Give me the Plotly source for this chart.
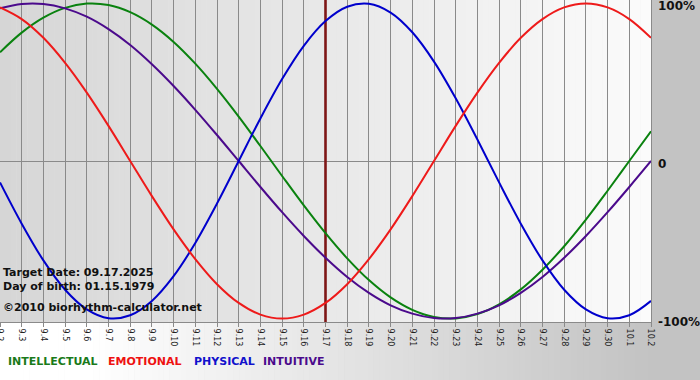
import plotly.graph_objects as go

# ---------------- data ----------------
dates = ["9.2", "9.3", "9.4", "9.5", "9.6", "9.7", "9.8", "9.9", "9.10", "9.11",
         "9.12", "9.13", "9.14", "9.15", "9.16", "9.17", "9.18", "9.19", "9.20",
         "9.21", "9.22", "9.23", "9.24", "9.25", "9.26", "9.27", "9.28", "9.29",
         "9.30", "10.1", "10.2"]

intellectual = [0.690, 0.815, 0.910, 0.972, 0.999, 0.990, 0.945, 0.866, 0.756, 0.618,
                0.458, 0.282, 0.095, -0.095, -0.282, -0.458, -0.618, -0.756, -0.866,
                -0.945, -0.990, -0.999, -0.972, -0.910, -0.815, -0.690, -0.541, -0.372,
                -0.189, 0.000, 0.189]
emotional = [0.975, 0.901, 0.782, 0.623, 0.434, 0.223, 0.000, -0.223, -0.434, -0.623,
             -0.782, -0.901, -0.975, -1.000, -0.975, -0.901, -0.782, -0.623, -0.434,
             -0.223, 0.000, 0.223, 0.434, 0.623, 0.782, 0.901, 0.975, 1.000, 0.975,
             0.901, 0.782]
physical = [-0.136, -0.398, -0.631, -0.817, -0.942, -0.998, -0.979, -0.888, -0.731, -0.520,
            -0.270, 0.000, 0.270, 0.520, 0.731, 0.888, 0.979, 0.998, 0.942, 0.817,
            0.631, 0.398, 0.136, -0.136, -0.398, -0.631, -0.817, -0.942, -0.998, -0.979,
            -0.888]
intuitive = [0.969, 0.997, 0.997, 0.969, 0.916, 0.837, 0.736, 0.614, 0.476, 0.325,
             0.165, 0.000, -0.165, -0.325, -0.476, -0.614, -0.736, -0.837, -0.916,
             -0.969, -0.997, -0.997, -0.969, -0.916, -0.837, -0.736, -0.614, -0.476,
             -0.325, -0.165, 0.000]

series_names = ["INTELLECTUAL", "EMOTIONAL", "PHYSICAL", "INTUITIVE"]
target_label = "9.17"
info_lines = ["Target Date: 09.17.2025", "Day of birth: 01.15.1979",
              "©2010 biorhythm-calculator.net"]
y_tick_vals = [1, 0, -1]
y_tick_text = ["100%", "0", "-100%"]

# ---------------- styling / layout ----------------
colors = {"INTELLECTUAL": "#0a820f", "EMOTIONAL": "#ee1a1a",
          "PHYSICAL": "#0000cc", "INTUITIVE": "#4b0a8c"}
legend_colors = {"INTELLECTUAL": "#1a7a1a", "EMOTIONAL": "#ee1111",
                 "PHYSICAL": "#1111cc", "INTUITIVE": "#4b0a8c"}
FONT = "DejaVu Sans"

W, H = 700, 380
ML, MR, MT, MB = 0, 49, 0, 58
PW, PH = W - ML - MR, H - MT - MB


def pxx(x):
    return (x - ML) / PW


def pxy(y):
    return (H - MB - y) / PH


xs = list(range(len(dates)))
ti = dates.index(target_label)

fig = go.Figure()

# target date marker
fig.add_trace(go.Scatter(x=[xs[ti], xs[ti]], y=[-1.2, 1.2], mode="lines",
                         line=dict(color="#7e1616", width=2.6),
                         hoverinfo="skip", showlegend=False))

series = {"INTELLECTUAL": intellectual, "INTUITIVE": intuitive,
          "PHYSICAL": physical, "EMOTIONAL": emotional}
for name in ["INTELLECTUAL", "INTUITIVE", "PHYSICAL", "EMOTIONAL"]:
    fig.add_trace(go.Scatter(x=xs, y=series[name], mode="lines", name=name,
                             line=dict(color=colors[name], width=2,
                                       shape="spline", smoothing=1.0),
                             showlegend=False))

shapes = []
# outer (paper) gradient: white on the left, grey on the right
N = 120
for i in range(N):
    x0p = i * W / N
    x1p = (i + 1) * W / N + 0.6
    xc = (x0p + x1p) / 2
    if xc < 90:
        v = 255
    elif xc > 650:
        v = 195
    else:
        v = 255 - (xc - 90) / (650 - 90) * 60
    v = int(round(v))
    shapes.append(dict(type="rect", xref="paper", yref="paper",
                       x0=pxx(x0p), x1=pxx(x1p), y0=pxy(H), y1=pxy(0),
                       fillcolor=f"rgb({v},{v},{v})", line=dict(width=0),
                       layer="below"))
# plot area gradient: grey on the left, almost white on the right
N2 = 120
for i in range(N2):
    x0p = ML + i * PW / N2
    x1p = ML + (i + 1) * PW / N2 + 0.6
    xc = (x0p + x1p) / 2 - ML
    v = int(round(214 + (xc / PW) * 37))
    shapes.append(dict(type="rect", xref="paper", yref="paper",
                       x0=pxx(x0p), x1=min(pxx(x1p), 1.0), y0=0, y1=1,
                       fillcolor=f"rgb({v},{v},{v})", line=dict(width=0),
                       layer="below"))

annotations = []
info_y = [272, 286, 307]
for txt, yy in zip(info_lines, info_y):
    annotations.append(dict(text=f"<b>{txt}</b>", xref="paper", yref="paper",
                            x=pxx(1), y=pxy(yy), xanchor="left",
                            yanchor="middle", showarrow=False,
                            font=dict(family=FONT, size=11, color="#111111")))

legend_x = [6, 106, 192, 261]
for name, lx in zip(series_names, legend_x):
    annotations.append(dict(text=f"<b>{name}</b>", xref="paper", yref="paper",
                            x=pxx(lx), y=pxy(361), xanchor="left",
                            yanchor="middle", showarrow=False,
                            font=dict(family=FONT, size=11,
                                      color=legend_colors[name])))

# right-hand value labels, placed on the y scale
for val, txt in zip(y_tick_vals, y_tick_text):
    annotations.append(dict(text=f"<b>{txt}</b>", xref="paper", yref="y",
                            x=1, y=val, xshift=5, yshift=-3,
                            xanchor="left", yanchor="middle", showarrow=False,
                            font=dict(family=FONT, size=12, color="#111111")))

fig.update_layout(
    width=W, height=H,
    margin=dict(l=ML, r=MR, t=MT, b=MB, pad=0),
    paper_bgcolor="#c3c3c3",
    plot_bgcolor="rgba(0,0,0,0)",
    shapes=shapes,
    annotations=annotations,
    showlegend=False,
    font=dict(family=FONT),
    xaxis=dict(range=[0, len(dates) - 1], tickmode="array", tickvals=xs,
               ticktext=dates, tickangle=90, ticklabeloverflow="allow",
               tickfont=dict(family=FONT, size=8, color="#222222"),
               showgrid=True, gridcolor="#8a8a8a", gridwidth=1,
               ticks="outside", ticklen=4, tickcolor="#8a8a8a",
               showline=True, linecolor="#8a8a8a", linewidth=1,
               zeroline=False, automargin=False, fixedrange=True),
    yaxis=dict(range=[-1.022, 1.022], side="right",
               showticklabels=False, ticks="", showgrid=False, zeroline=True,
               zerolinecolor="#8a8a8a", zerolinewidth=1,
               showline=True, linecolor="#8a8a8a", linewidth=1,
               automargin=False, fixedrange=True),
)

fig.write_html("out.html")
